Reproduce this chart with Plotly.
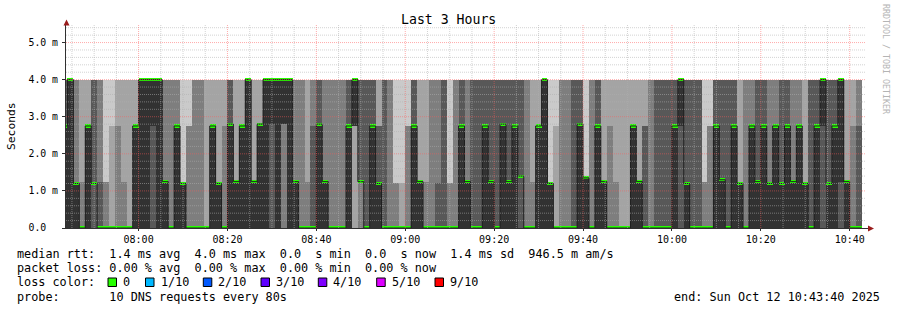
import plotly.graph_objects as go
from datetime import datetime, timedelta

W, H = 897, 310
ML, MR, MT, MB = 66, 31, 24, 82
PW, PH = W - ML - MR, H - MT - MB
FONT = "DejaVu Sans Mono"

# ---------------- data ----------------
first_step_start = datetime(2025, 10, 12, 7, 42, 40)
step_seconds = 80
view_start = datetime(2025, 10, 12, 7, 43, 40)
view_end = datetime(2025, 10, 12, 10, 43, 40)
top_ms = 4.0

# median rtt per 80 s step (ms)
median_ms = [2.75,
    4.0, 1.2, 0, 2.75, 1.2, 0, 0, 0, 0, 0,
    0, 2.75, 4.0, 4.0, 4.0, 4.0, 1.25, 0, 2.75, 1.2,
    0, 0, 0, 0, 2.75, 1.2, 0, 2.8, 1.25, 2.75,
    4.0, 1.25, 2.8, 4.0, 4.0, 4.0, 4.0, 4.0, 1.25, 0,
    0, 0, 2.8, 1.25, 0, 0, 0, 2.75, 4.0, 1.25,
    0, 2.75, 1.2, 0, 0, 0, 0, 0, 2.75, 1.25,
    0, 0, 0, 0, 0, 0, 2.75, 1.25, 0, 0,
    2.75, 1.25, 0, 2.8, 1.25, 2.75, 1.4, 0, 0, 2.75,
    4.0, 1.2, 0, 0, 0, 0, 2.8, 1.35, 0, 2.75,
    1.25, 0, 0, 0, 0, 2.75, 1.25, 0, 0, 0,
    0, 0, 2.75, 4.0, 1.2, 0, 0, 0, 0, 2.75,
    1.3, 0, 2.75, 1.2, 0, 2.75, 1.25, 2.75, 1.2, 2.75,
    1.2, 2.75, 1.25, 2.75, 1.2, 0, 2.75, 4.0, 1.2, 2.75,
    4.0, 1.25, 0, 0]

# how many of the 10 requests of each step fell on each rtt level
n_zero = [5,
    5, 5, 7, 5, 4, 6, 7, 8, 7, 7,
    8, 5, 5, 5, 4, 5, 5, 7, 5, 5,
    7, 7, 7, 8, 5, 5, 7, 5, 5, 5,
    5, 5, 5, 5, 4, 5, 3, 5, 5, 7,
    7, 6, 5, 5, 7, 7, 7, 5, 2, 3,
    6, 5, 5, 6, 7, 7, 8, 7, 5, 5,
    7, 7, 6, 6, 7, 7, 5, 5, 6, 6,
    5, 5, 6, 5, 5, 5, 4, 7, 7, 5,
    5, 5, 8, 7, 7, 6, 5, 5, 7, 5,
    5, 7, 7, 8, 8, 5, 5, 6, 7, 6,
    6, 6, 5, 4, 5, 6, 6, 7, 7, 5,
    5, 6, 5, 5, 7, 5, 5, 5, 5, 5,
    5, 5, 5, 5, 5, 6, 5, 4, 5, 5,
    4, 5, 7, 6]
n_low = [0,
    0, 2, 1, 0, 2, 1, 2, 0, 0, 1,
    0, 0, 0, 0, 0, 0, 2, 0, 0, 4,
    0, 0, 0, 0, 0, 3, 0, 0, 3, 0,
    0, 3, 0, 0, 0, 0, 0, 0, 2, 0,
    1, 0, 0, 2, 0, 0, 0, 0, 0, 3,
    0, 0, 1, 0, 0, 2, 1, 0, 0, 3,
    1, 0, 1, 0, 2, 0, 0, 2, 0, 0,
    0, 1, 0, 0, 1, 0, 2, 0, 1, 0,
    0, 4, 0, 0, 0, 0, 0, 4, 0, 0,
    3, 0, 1, 0, 0, 0, 3, 0, 0, 0,
    0, 0, 0, 0, 1, 0, 0, 2, 0, 0,
    1, 0, 0, 3, 0, 0, 1, 0, 2, 0,
    1, 0, 2, 0, 3, 0, 0, 0, 1, 0,
    1, 3, 0, 0]
n_mid = [1,
    0, 0, 0, 3, 0, 0, 0, 1, 1, 0,
    0, 3, 0, 0, 1, 0, 0, 0, 2, 0,
    2, 0, 0, 0, 3, 0, 1, 1, 0, 3,
    0, 0, 3, 0, 1, 0, 2, 0, 0, 0,
    0, 1, 1, 0, 0, 0, 0, 1, 3, 0,
    0, 1, 2, 0, 0, 0, 0, 2, 1, 0,
    0, 0, 0, 0, 0, 0, 1, 0, 0, 0,
    1, 0, 0, 1, 0, 1, 0, 0, 0, 3,
    0, 0, 1, 0, 0, 0, 1, 0, 0, 1,
    0, 1, 0, 0, 0, 3, 0, 2, 0, 0,
    0, 0, 1, 1, 0, 0, 0, 0, 2, 1,
    0, 0, 1, 0, 0, 2, 0, 1, 0, 2,
    0, 1, 0, 2, 0, 0, 1, 1, 0, 1,
    0, 0, 1, 1]
n_top = [4,
    5, 3, 2, 2, 4, 3, 1, 1, 2, 2,
    2, 2, 5, 5, 5, 5, 3, 3, 3, 1,
    1, 3, 3, 2, 2, 2, 2, 4, 2, 2,
    5, 2, 2, 5, 5, 5, 5, 5, 3, 3,
    2, 3, 4, 3, 3, 3, 3, 4, 5, 4,
    4, 4, 2, 4, 3, 1, 1, 1, 4, 2,
    2, 3, 3, 4, 1, 3, 4, 3, 4, 4,
    4, 4, 4, 4, 4, 4, 4, 3, 2, 2,
    5, 1, 1, 3, 3, 4, 4, 1, 3, 4,
    2, 2, 2, 2, 2, 2, 2, 2, 3, 4,
    4, 4, 4, 5, 4, 4, 4, 1, 1, 4,
    4, 4, 4, 2, 3, 3, 4, 4, 3, 3,
    4, 4, 3, 3, 2, 4, 4, 5, 4, 4,
    5, 2, 2, 3]
# rtt of the "about 1 ms" and "about 2.8 ms" levels in each step
low_ms = [1.2,
    1.2, 1.2, 1.25, 1.2, 1.2, 1.25, 1.25, 1.2, 1.2, 1.25,
    1.2, 1.2, 1.2, 1.2, 1.2, 1.2, 1.25, 1.2, 1.2, 1.2,
    1.2, 1.2, 1.2, 1.2, 1.2, 1.2, 1.2, 1.2, 1.25, 1.2,
    1.2, 1.25, 1.2, 1.2, 1.2, 1.2, 1.2, 1.2, 1.25, 1.2,
    1.25, 1.2, 1.2, 1.25, 1.2, 1.2, 1.2, 1.2, 1.2, 1.25,
    1.2, 1.2, 1.2, 1.2, 1.2, 1.2, 1.2, 1.2, 1.2, 1.25,
    1.25, 1.2, 1.2, 1.2, 1.2, 1.2, 1.2, 1.25, 1.2, 1.2,
    1.2, 1.25, 1.2, 1.2, 1.25, 1.2, 1.4, 1.2, 1.25, 1.2,
    1.2, 1.2, 1.2, 1.2, 1.2, 1.2, 1.2, 1.35, 1.2, 1.2,
    1.25, 1.2, 1.25, 1.2, 1.2, 1.2, 1.25, 1.2, 1.2, 1.2,
    1.2, 1.2, 1.2, 1.2, 1.2, 1.2, 1.2, 1.25, 1.2, 1.2,
    1.3, 1.2, 1.2, 1.2, 1.2, 1.2, 1.25, 1.2, 1.2, 1.2,
    1.2, 1.2, 1.25, 1.2, 1.2, 1.2, 1.2, 1.2, 1.2, 1.2,
    1.25, 1.25, 1.2, 1.2]
mid_ms = [2.75,
    2.75, 2.75, 2.75, 2.75, 2.75, 2.75, 2.75, 2.75, 2.75, 2.75,
    2.75, 2.75, 2.75, 2.75, 2.75, 2.75, 2.75, 2.75, 2.75, 2.75,
    2.75, 2.75, 2.75, 2.75, 2.75, 2.75, 2.75, 2.8, 2.75, 2.75,
    2.75, 2.75, 2.8, 2.75, 2.8, 2.75, 2.8, 2.75, 2.75, 2.75,
    2.75, 2.75, 2.8, 2.75, 2.75, 2.75, 2.75, 2.75, 2.75, 2.75,
    2.75, 2.75, 2.75, 2.75, 2.75, 2.75, 2.75, 2.75, 2.75, 2.75,
    2.75, 2.75, 2.75, 2.75, 2.75, 2.75, 2.75, 2.75, 2.75, 2.75,
    2.75, 2.75, 2.75, 2.8, 2.75, 2.75, 2.75, 2.75, 2.75, 2.75,
    2.75, 2.75, 2.75, 2.75, 2.75, 2.75, 2.8, 2.75, 2.75, 2.75,
    2.75, 2.75, 2.75, 2.75, 2.75, 2.75, 2.75, 2.75, 2.75, 2.75,
    2.75, 2.75, 2.75, 2.75, 2.75, 2.75, 2.75, 2.75, 2.75, 2.75,
    2.75, 2.75, 2.75, 2.75, 2.75, 2.75, 2.75, 2.75, 2.75, 2.75,
    2.75, 2.75, 2.75, 2.75, 2.75, 2.75, 2.75, 2.75, 2.75, 2.75,
    2.75, 2.75, 2.75, 2.75]

x_tick_labels = ["08:00", "08:20", "08:40", "09:00", "09:20",
                 "09:40", "10:00", "10:20", "10:40"]
y_tick_values = [0, 1, 2, 3, 4, 5]
y_tick_labels = ["0.0\u00a0\u00a0", "1.0 m", "2.0 m", "3.0 m", "4.0 m", "5.0 m"]

loss_labels = ["0", "1/10", "2/10", "3/10", "4/10", "5/10", "9/10"]
loss_colors = ["#26ff00", "#00b8ff", "#0059ff", "#5e00ff", "#7e00ff", "#dd00ff", "#ff0000"]

stats_line = "median rtt:  1.4 ms avg  4.0 ms max  0.0  s min  0.0  s now  1.4 ms sd  946.5 m am/s"
loss_line = "packet loss: 0.00 % avg  0.00 % max  0.00 % min  0.00 % now"
probe_line = "probe:       10 DNS requests every 80s"
end_line = "end: Sun Oct 12 10:43:40 2025"

# ---------------- build ----------------
N = len(median_ms)
fmt = lambda d: d.strftime("%Y-%m-%d %H:%M:%S")
starts = [first_step_start + timedelta(seconds=step_seconds * i) for i in range(N)]
xs = [fmt(d) for d in starts]
bar_w = step_seconds * 1000

pings = []
for i in range(N):
    p = ([0.0] * n_zero[i] + [low_ms[i]] * n_low[i] +
         [mid_ms[i]] * n_mid[i] + [top_ms] * n_top[i])
    pings.append(sorted(p))

fig = go.Figure()
half = 5
for i in range(1, half + 1):
    g = int(190 / half * (half - i)) + 50
    base = [p[i - 1] for p in pings]
    hgt = [p[10 - i] - p[i - 1] for p in pings]
    fig.add_trace(go.Bar(x=xs, y=hgt, base=base, width=bar_w, offset=0,
                         marker=dict(color=f"rgb({g},{g},{g})", line=dict(width=0)),
                         hoverinfo="skip", showlegend=False))

line_x = xs + [fmt(starts[-1] + timedelta(seconds=step_seconds))]
line_y = median_ms + [median_ms[-1]]
fig.add_trace(go.Scatter(x=line_x, y=line_y, mode="lines",
                         line=dict(color="#202020", width=1, shape="hv"),
                         hoverinfo="skip", showlegend=False))

sw = 0.042
fig.add_trace(go.Bar(x=xs, y=[2 * sw] * N, base=[m - sw for m in median_ms],
                     width=bar_w, offset=0,
                     marker=dict(color=loss_colors[0], line=dict(width=0)),
                     hoverinfo="skip", showlegend=False))

def day(hm):
    h, m = hm.split(":")
    return datetime(2025, 10, 12, int(h), int(m))

x_major = [day(t) for t in x_tick_labels]
x_minor = []
t = datetime(2025, 10, 12, 7, 45)
while t <= view_end:
    if t not in x_major:
        x_minor.append(t)
    t += timedelta(minutes=5)
y_minor = [round(0.2 * k, 1) for k in range(1, 28) if k % 5 != 0]
y_major = [1, 2, 3, 4, 5]

minor_col = "rgba(175,175,175,0.55)"
major_col = "rgba(255,90,90,0.5)"
dash = "1px,1px"
shapes = []
for t in x_minor:
    shapes.append(dict(type="line", xref="x", yref="paper", x0=fmt(t), x1=fmt(t), y0=0, y1=1,
                       line=dict(color=minor_col, width=1, dash=dash), layer="above"))
for yv in y_minor:
    shapes.append(dict(type="line", xref="paper", yref="y", x0=0, x1=1, y0=yv, y1=yv,
                       line=dict(color=minor_col, width=1, dash=dash), layer="above"))
for t in x_major:
    shapes.append(dict(type="line", xref="x", yref="paper", x0=fmt(t), x1=fmt(t), y0=0, y1=1,
                       line=dict(color=major_col, width=1, dash=dash), layer="above"))
for yv in y_major:
    shapes.append(dict(type="line", xref="paper", yref="y", x0=0, x1=1, y0=yv, y1=yv,
                       line=dict(color=major_col, width=1, dash=dash), layer="above"))

def P(x, y):
    return (x - ML) / PW, (H - MB - y) / PH

def path(pts):
    s = ""
    for j, (x, y) in enumerate(pts):
        px, py = P(x, y)
        s += ("M " if j == 0 else " L ") + f"{px:.5f},{py:.5f}"
    return s + " Z"

arrow_col = "#9a1c1c"
shapes.append(dict(type="path", xref="paper", yref="paper",
                   path=path([(66.5, 19.5), (63.5, 25.5), (69.5, 25.5)]),
                   fillcolor=arrow_col, line=dict(width=0), layer="above"))
shapes.append(dict(type="path", xref="paper", yref="paper",
                   path=path([(874, 228.5), (868, 225.5), (868, 231.5)]),
                   fillcolor=arrow_col, line=dict(width=0), layer="above"))
x0p, y0p = P(866, 228.5)
x1p, _ = P(868, 228.5)
shapes.append(dict(type="line", xref="paper", yref="paper", x0=x0p, x1=x1p, y0=y0p, y1=y0p,
                   line=dict(color="#303030", width=1), layer="above"))

ann = []
def txt(x, y, s, size, anchor="left", color="#000000", angle=0):
    px, py = P(x, y)
    ann.append(dict(x=px, y=py, xref="paper", yref="paper", text=s.replace(" ", "\u00a0"),
                    showarrow=False, xanchor=anchor, yanchor="middle", textangle=angle,
                    font=dict(family=FONT, size=size, color=color), borderpad=0))

txt(448.5, 19.5, "Last 3 Hours", 13.2, anchor="center")
txt(11, 126, "Seconds", 11.3, anchor="center", angle=-90)
txt(886, 59, "RRDTOOL / TOBI OETIKER", 8.3, anchor="center", color="#b4b4b4", angle=90)

LS = 11.8
txt(16, 254, stats_line, LS)
txt(16, 268, loss_line, LS)
txt(16, 282, "loss color:", LS)
txt(16, 296.5, probe_line, LS)
txt(880.5, 296.5, end_line, LS, anchor="right")

sq_x = [108, 145.5, 203.3, 261, 318.3, 376.7, 435]
for sx, lab, col in zip(sq_x, loss_labels, loss_colors):
    a, b = P(sx, 278)
    c, d = P(sx + 8.5, 286.5)
    shapes.append(dict(type="rect", xref="paper", yref="paper", x0=a, y0=d, x1=c, y1=b,
                       fillcolor=col, line=dict(color="#000000", width=1), layer="above"))
    txt(sx + 14, 282, lab, LS)

fig.update_layout(
    width=W, height=H,
    margin=dict(l=ML, r=MR, t=MT, b=MB, pad=0),
    paper_bgcolor="white", plot_bgcolor="white",
    barmode="overlay", bargap=0, showlegend=False,
    font=dict(family=FONT, color="#000000"),
    shapes=shapes, annotations=ann,
)
fig.update_xaxes(type="date", range=[fmt(view_start), fmt(view_end)],
                 tickvals=[fmt(t) for t in x_major], ticktext=x_tick_labels,
                 showgrid=False, zeroline=False, showline=True, linecolor="#303030", linewidth=1,
                 ticks="outside", ticklen=2, tickcolor="#303030", tickfont=dict(size=10),
                 layer="above traces")
fig.update_yaxes(range=[0, 5.5], tickvals=y_tick_values, ticktext=y_tick_labels,
                 showgrid=False, zeroline=False, showline=True, linecolor="#303030", linewidth=1,
                 ticks="outside", ticklen=3, tickcolor="#303030", tickfont=dict(size=9.8),
                 ticklabelstandoff=2, layer="above traces")

fig.write_html("out.html")
